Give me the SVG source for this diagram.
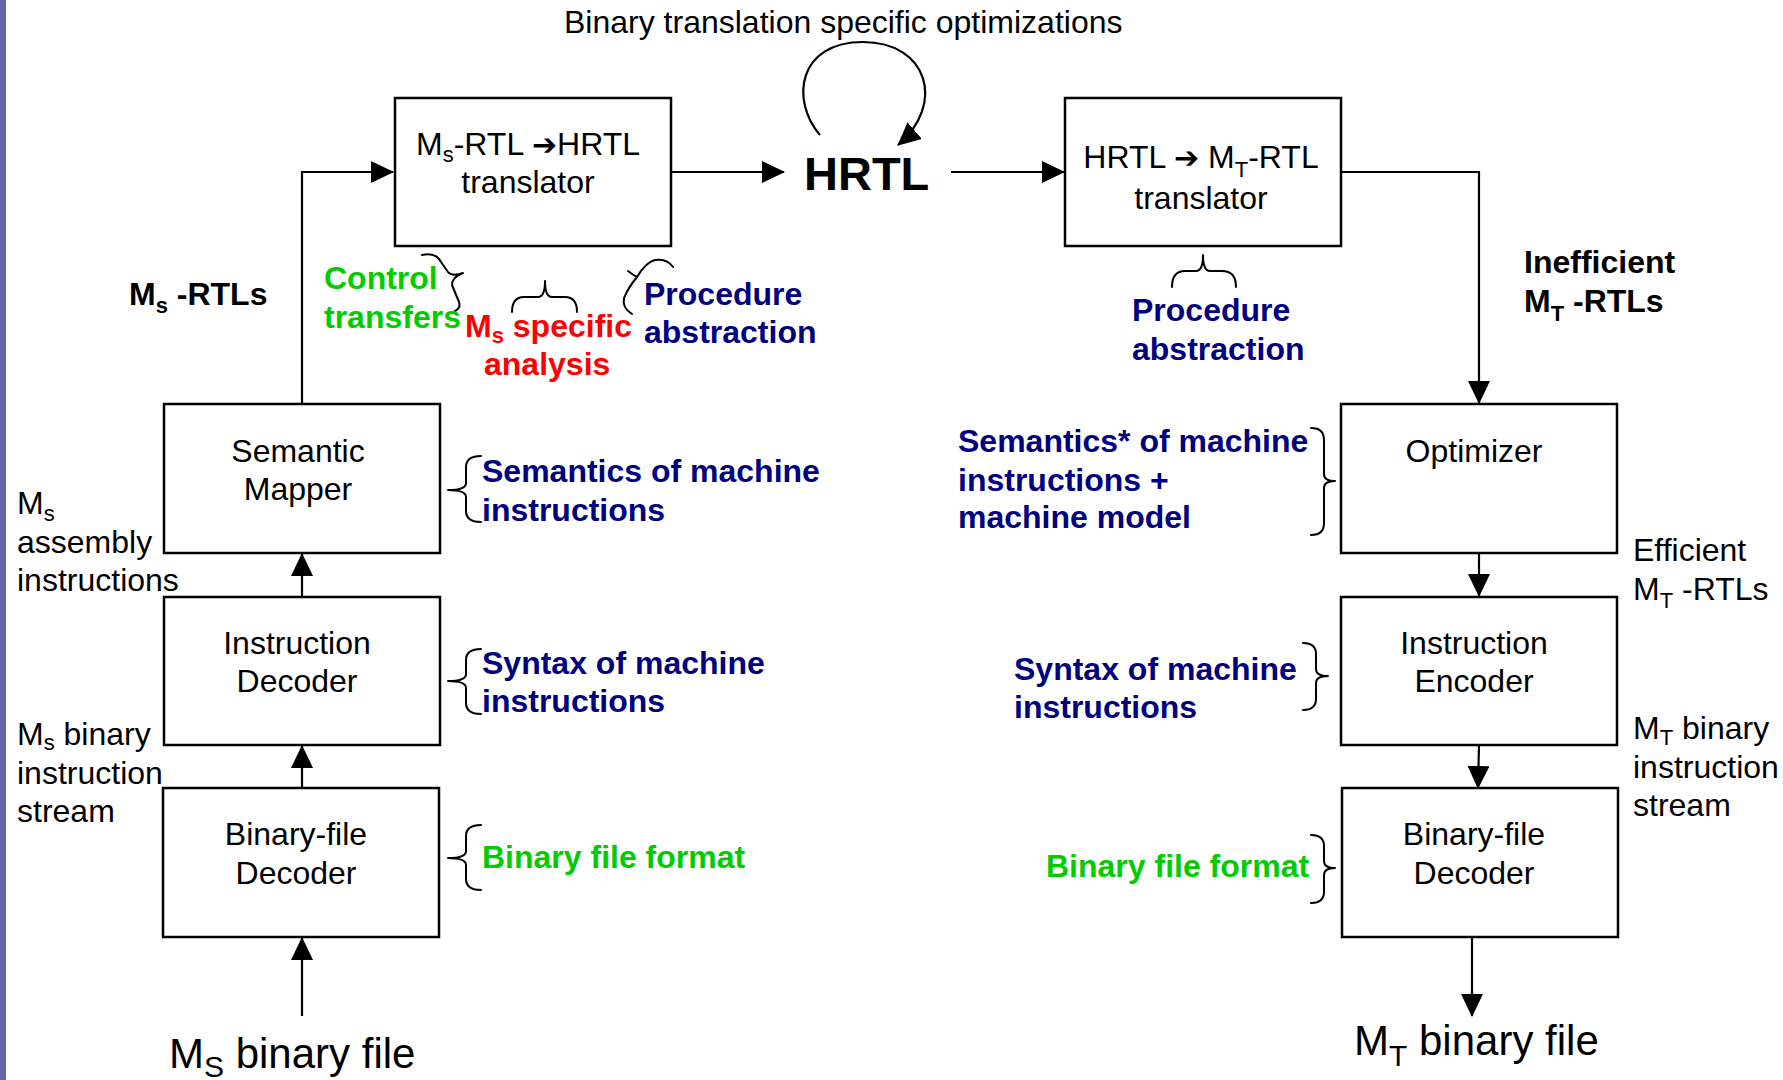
<svg xmlns="http://www.w3.org/2000/svg" width="1783" height="1080" viewBox="0 0 1783 1080">
  <style>
    .t { font-family: "Liberation Sans", Arial, Helvetica, sans-serif; font-size: 32px; fill: #000; }
    .b { font-weight: bold; }
    .big { font-size: 42px; }
    .huge { font-size: 47px; }
    .navy { fill: #000080; }
    .green { fill: #00cc00; }
    .red { fill: #ff0000; }
    .mid { text-anchor: middle; }
    .box { fill: #fff; stroke: #000; stroke-width: 2.5; }
    .wire { fill: none; stroke: #000; stroke-width: 2.2; }
    .brace { fill: none; stroke: #000; stroke-width: 2; stroke-linejoin: round; stroke-linecap: round; }
    .glyph { font-family: "DejaVu Sans", sans-serif; font-size: 30px; font-weight: bold; }
  </style>
  <defs>
    <marker id="ah" markerUnits="userSpaceOnUse" markerWidth="23" markerHeight="22" viewBox="0 0 23 22" refX="22" refY="11" orient="auto">
      <path d="M0,0 L23,11 L0,22 z" fill="#000"/>
    </marker>
  </defs>

  <rect width="1783" height="1080" fill="#fff"/>
  <rect x="0" y="0" width="6" height="1080" fill="#6a66a6"/>

  <!-- connectors -->
  <g id="connectors">
    <path class="wire" d="M302,404 V172 H393" marker-end="url(#ah)"/>
    <path class="wire" d="M671,172 H784" marker-end="url(#ah)"/>
    <path class="wire" d="M951,172 H1064" marker-end="url(#ah)"/>
    <path class="wire" d="M1341,172 H1479 V403" marker-end="url(#ah)"/>
    <path class="wire" d="M1479,553 V596" marker-end="url(#ah)"/>
    <path class="wire" d="M1479,745 L1478,788" marker-end="url(#ah)"/>
    <path class="wire" d="M1472,937 V1016" marker-end="url(#ah)"/>
    <path class="wire" d="M302,1016 V938" marker-end="url(#ah)"/>
    <path class="wire" d="M302,788 V746" marker-end="url(#ah)"/>
    <path class="wire" d="M302,596 V554" marker-end="url(#ah)"/>
    <!-- self loop on HRTL -->
    <path class="wire" d="M820,135 C790,100 798,42 863,42 C928,42 946,104 898,145" marker-end="url(#ah)"/>
  </g>

  <!-- top caption -->
  <text class="t" x="564" y="33">Binary translation specific optimizations</text>

  <!-- HRTL -->
  <g id="hrtl">
    <text class="t b huge" x="804" y="190">HRTL</text>
  </g>

  <!-- Ms-RTL to HRTL translator -->
  <g id="ms-translator">
    <rect class="box" x="395" y="98" width="276" height="148"/>
    <text class="t mid" x="528" y="155">M<tspan dy="7" font-size="22">s</tspan><tspan dy="-7">-RTL </tspan><tspan class="glyph">➔</tspan>HRTL</text>
    <text class="t mid" x="528" y="193">translator</text>
  </g>

  <!-- HRTL to MT-RTL translator -->
  <g id="mt-translator">
    <rect class="box" x="1065" y="98" width="276" height="148"/>
    <text class="t mid" x="1201" y="168">HRTL <tspan class="glyph">➔</tspan> M<tspan dy="9" font-size="22">T</tspan><tspan dy="-9">-RTL</tspan></text>
    <text class="t mid" x="1201" y="209">translator</text>
  </g>

  <!-- source side -->
  <g id="semantic-mapper">
    <rect class="box" x="164" y="404" width="276" height="149"/>
    <text class="t mid" x="298" y="462">Semantic</text>
    <text class="t mid" x="298" y="500">Mapper</text>
  </g>
  <g id="instruction-decoder">
    <rect class="box" x="164" y="597" width="276" height="148"/>
    <text class="t mid" x="297" y="654">Instruction</text>
    <text class="t mid" x="297" y="692">Decoder</text>
  </g>
  <g id="binary-decoder-src">
    <rect class="box" x="163" y="788" width="276" height="149"/>
    <text class="t mid" x="296" y="845">Binary-file</text>
    <text class="t mid" x="296" y="884">Decoder</text>
  </g>

  <!-- target side -->
  <g id="optimizer">
    <rect class="box" x="1341" y="404" width="276" height="149"/>
    <text class="t mid" x="1474" y="462">Optimizer</text>
  </g>
  <g id="instruction-encoder">
    <rect class="box" x="1341" y="597" width="276" height="148"/>
    <text class="t mid" x="1474" y="654">Instruction</text>
    <text class="t mid" x="1474" y="692">Encoder</text>
  </g>
  <g id="binary-decoder-tgt">
    <rect class="box" x="1342" y="788" width="276" height="149"/>
    <text class="t mid" x="1474" y="845">Binary-file</text>
    <text class="t mid" x="1474" y="884">Decoder</text>
  </g>

  <!-- flow labels -->
  <g id="labels">
    <text class="t b" x="129" y="305">M<tspan dy="8" font-size="22">s</tspan><tspan dy="-8"> -RTLs</tspan></text>
    <text class="t" x="17" y="514">M<tspan dy="7" font-size="22">s</tspan></text>
    <text class="t" x="17" y="553">assembly</text>
    <text class="t" x="17" y="591">instructions</text>
    <text class="t" x="17" y="745">M<tspan dy="5" font-size="22">s</tspan><tspan dy="-5"> binary</tspan></text>
    <text class="t" x="17" y="784">instruction</text>
    <text class="t" x="17" y="822">stream</text>
    <text class="t big" x="169" y="1068">M<tspan dy="9" font-size="30">S</tspan><tspan dy="-9"> binary file</tspan></text>

    <text class="t b" x="1524" y="273">Inefficient</text>
    <text class="t b" x="1524" y="312">M<tspan dy="9" font-size="22">T</tspan><tspan dy="-9"> -RTLs</tspan></text>
    <text class="t" x="1633" y="561">Efficient</text>
    <text class="t" x="1633" y="600">M<tspan dy="8" font-size="22">T</tspan><tspan dy="-8"> -RTLs</tspan></text>
    <text class="t" x="1633" y="739">M<tspan dy="6" font-size="22">T</tspan><tspan dy="-6"> binary</tspan></text>
    <text class="t" x="1633" y="778">instruction</text>
    <text class="t" x="1633" y="816">stream</text>
    <text class="t big" x="1354" y="1055">M<tspan dy="11" font-size="30">T</tspan><tspan dy="-11"> binary file</tspan></text>
  </g>

  <!-- annotations with braces -->
  <g id="annotations">
    <!-- Control transfers -->
    <path class="brace" d="M422,255 Q436,252 441,262 L448,272 Q452,277 463,273 Q452,277 452,285 L459,302 Q461,308 455,311"/>
    <text class="t b green" x="324" y="289">Control</text>
    <text class="t b green" x="324" y="328">transfers</text>

    <!-- Ms specific analysis -->
    <path class="brace" d="M512,312 Q512,297 524,297 L538,297 Q545,297 545,281 Q545,297 552,297 L565,297 Q577,297 577,312"/>
    <text class="t b red" x="465" y="337">M<tspan dy="6" font-size="22">s</tspan><tspan dy="-6"> specific</tspan></text>
    <text class="t b red" x="484" y="375">analysis</text>

    <!-- Procedure abstraction (source) -->
    <path class="brace" d="M628,271 Q633,275 637,277 Q646,262 655,260 Q667,258 673,267 M637,277 Q628,288 624,298 Q622,308 632,314"/>
    <text class="t b navy" x="644" y="305">Procedure</text>
    <text class="t b navy" x="644" y="343">abstraction</text>

    <!-- Procedure abstraction (target) -->
    <path class="brace" d="M1172,287 Q1172,271 1185,271 L1196,271 Q1203,271 1203,255 Q1203,271 1210,271 L1222,271 Q1236,271 1236,287"/>
    <text class="t b navy" x="1132" y="321">Procedure</text>
    <text class="t b navy" x="1132" y="360">abstraction</text>

    <!-- left column braces -->
    <path class="brace" d="M481,456 Q466,456 466,467 L466,483 Q466,490 448,490 Q466,490 466,497 L466,511 Q466,522 481,522"/>
    <text class="t b navy" x="482" y="482">Semantics of machine</text>
    <text class="t b navy" x="482" y="521">instructions</text>

    <path class="brace" d="M481,649 Q466,649 466,660 L466,674 Q466,681 448,681 Q466,681 466,688 L466,703 Q466,714 481,714"/>
    <text class="t b navy" x="482" y="674">Syntax of machine</text>
    <text class="t b navy" x="482" y="712">instructions</text>

    <path class="brace" d="M481,825 Q466,825 466,836 L466,851 Q466,858 448,858 Q466,858 466,865 L466,879 Q466,890 481,890"/>
    <text class="t b green" x="482" y="868">Binary file format</text>

    <!-- right column braces -->
    <path class="brace" d="M1311,428 Q1324,428 1324,440 L1324,474 Q1324,481 1335,481 Q1324,481 1324,488 L1324,523 Q1324,535 1311,535"/>
    <text class="t b navy" x="958" y="452">Semantics* of machine</text>
    <text class="t b navy" x="958" y="491">instructions +</text>
    <text class="t b navy" x="958" y="528">machine model</text>

    <path class="brace" d="M1303,643 Q1316,643 1316,654 L1316,669 Q1316,676 1328,676 Q1316,676 1316,683 L1316,699 Q1316,710 1303,710"/>
    <text class="t b navy" x="1014" y="680">Syntax of machine</text>
    <text class="t b navy" x="1014" y="718">instructions</text>

    <path class="brace" d="M1311,835 Q1324,835 1324,846 L1324,861 Q1324,868 1335,868 Q1324,868 1324,875 L1324,892 Q1324,903 1311,903"/>
    <text class="t b green" x="1046" y="877">Binary file format</text>
  </g>
</svg>
